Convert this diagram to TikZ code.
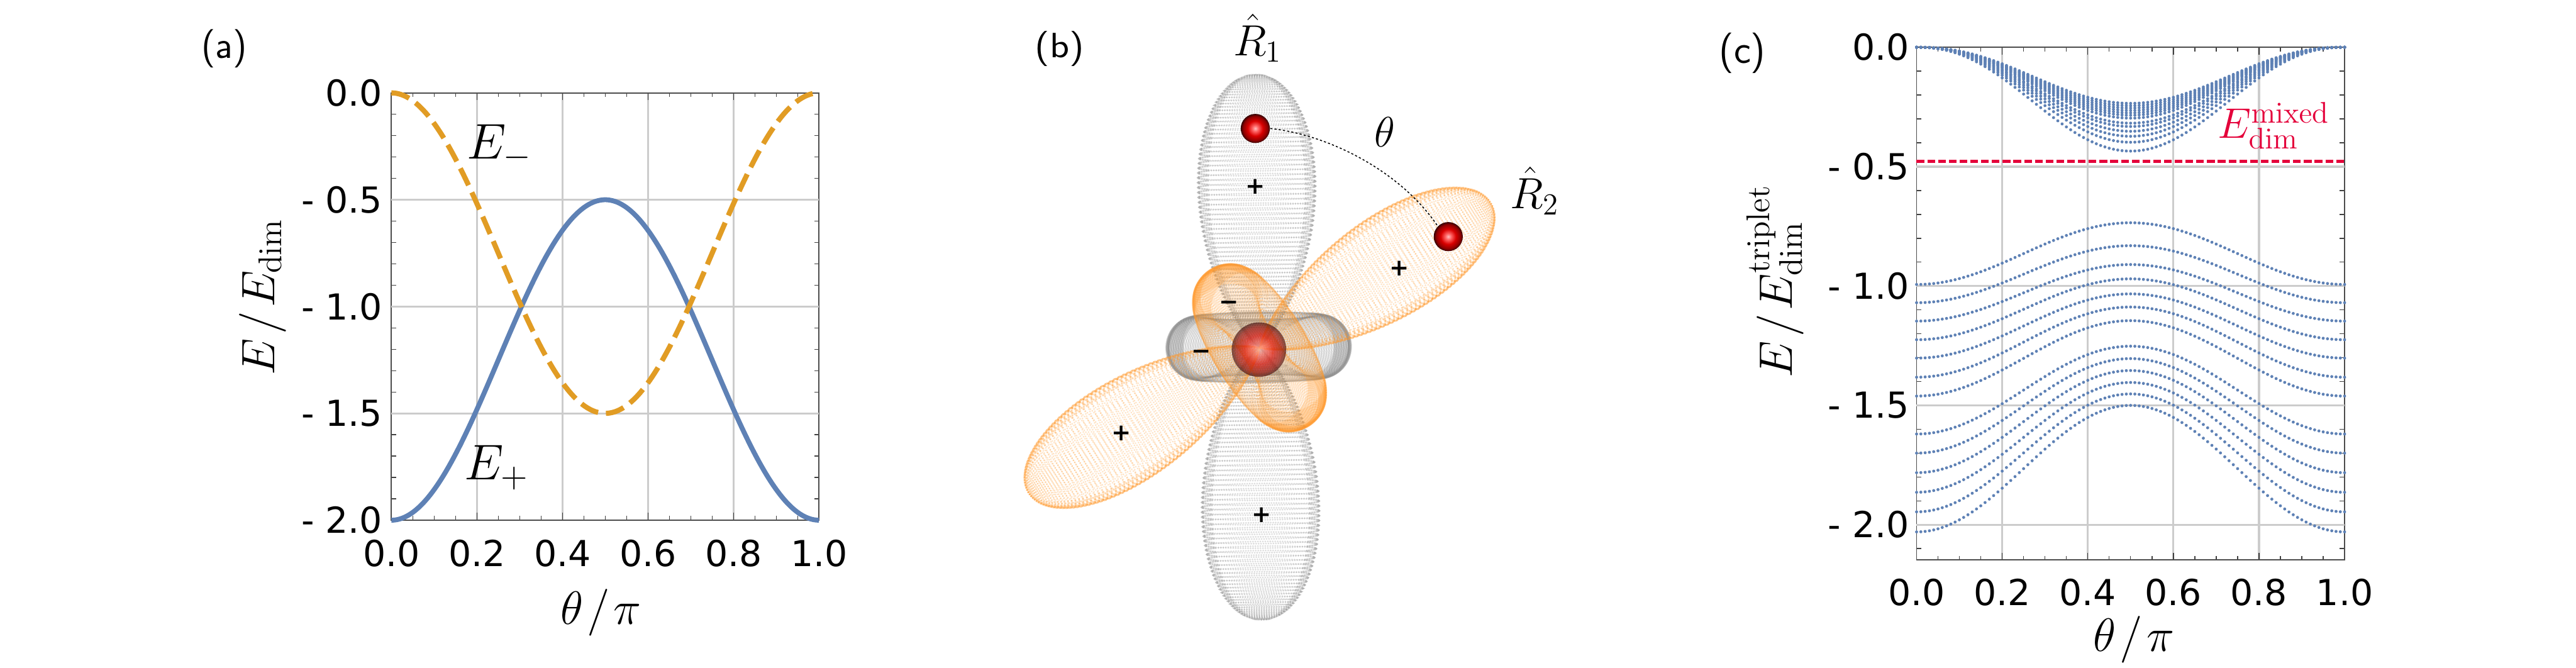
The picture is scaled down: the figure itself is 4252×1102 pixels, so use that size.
\RequirePackage{fix-cm}
\documentclass[tikz,border=0pt]{standalone}
\usepackage[no-math]{fontspec}
\newfontfamily\tickfont{DejaVu Sans}
\newfontfamily\signfont{DejaVu Sans Bold}
\definecolor{mblue}{HTML}{5E81B5}
\definecolor{morange}{HTML}{E19C24}
\definecolor{mred}{HTML}{E4003A}
\definecolor{gridc}{HTML}{CCCCCC}
\definecolor{lobeorange}{HTML}{FF9A30}
\definecolor{lobegray}{HTML}{808080}
\pgfdeclareradialshading{sph}{\pgfpoint{0bp}{0bp}}{%
  color(0bp)=(white!75!red);
  color(5bp)=(red!60!white);
  color(13bp)=(red!85!black);
  color(21bp)=(red!55!black);
  color(25bp)=(red!20!black);
  color(50bp)=(black)}
\tikzset{
  x=0.01cm,y=-0.01cm,
  gridline/.style={gridc,line width=0.95pt},
  axisline/.style={black!70,line width=0.55pt},
  tickline/.style={black!75,line width=0.42pt},
  ticklabel/.style={inner sep=0pt,font=\tickfont\fontsize{16.8}{20}\selectfont},
  axislabel/.style={inner sep=0pt,font=\fontsize{22}{26}\selectfont},
  panellabel/.style={inner sep=0pt,font=\sffamily\fontsize{18}{22}\selectfont},
  curvelabel/.style={inner sep=0pt,anchor=base west,font=\fontsize{23.5}{28}\selectfont},
  vectlabel/.style={inner sep=0pt,anchor=base west,font=\fontsize{20.5}{24}\selectfont},
  signlabel/.style={inner sep=0pt,font=\signfont\fontsize{11}{13}\selectfont},
  bluecurve/.style={mblue,line width=2.3pt},
  orangecurve/.style={morange,line width=2.4pt,dash pattern=on 8.8pt off 3.7pt},
  reddash/.style={mred,line width=1.5pt,dash pattern=on 3.6pt off 1.45pt},
  bluedot/.style={mblue,fill=mblue,draw=none},
  sphere/.style={circle,inner sep=0pt,shading=sph,draw=none},
  arcline/.style={black,line width=0.45pt,dash pattern=on 1pt off 1pt},
  ringdots/.style={line width=0.9pt,dash pattern=on 0.01pt off 1.15pt,line cap=round},
}
\newcommand{\axesbox}[6]{% x0 x1 ytop unit ybottom nYticks
  \foreach \g in {1,2,3,4} \draw[gridline] ({#1+(#2-#1)*\g/5},#3) -- ({#1+(#2-#1)*\g/5},#5);
  \foreach \i in {1,...,19} {
    \pgfmathsetmacro\xx{#1+(#2-#1)*\i/20}
    \pgfmathtruncatemacro\mj{mod(\i,4)==0 ? 12 : 7.5}
    \draw[tickline] (\xx,#3) -- ++(0,\mj);
    \draw[tickline] (\xx,#5) -- ++(0,-\mj);
  }
  \foreach \i in {1,...,#6} {
    \pgfmathsetmacro\yy{#3+#4*\i/10}
    \pgfmathtruncatemacro\mj{mod(\i,5)==0 ? 12 : 8}
    \draw[tickline] (#1,\yy) -- ++(\mj,0);
    \draw[tickline] (#2,\yy) -- ++(-\mj,0);
  }
  \draw[axisline] (#1,#3) rectangle (#2,#5);
}
\newcommand{\orbital}[8]{% cx cy ux uy rot ratio colour lobewidth
  \foreach \t in {0.3,0.85,...,179.9} {
    \pgfmathsetmacro\cc{cos(\t)}
    \pgfmathsetmacro\ss{sin(\t)}
    \pgfmathsetmacro\w{3*\cc*\cc-1}
    \pgfmathsetmacro\rr{\w>0 ? 450*pow(max(\w/2,0.002),2.4) : 152*pow(max(-\w,0.002),0.3)}
    \pgfmathsetmacro\zz{\rr*\cc}
    \pgfmathsetmacro\lw{\w>0 ? #8 : 1}
    \pgfmathsetmacro\fa{\w>0 ? 1 : 0.5}
    \pgfmathsetmacro\rh{max(\rr*\ss*\lw,1)}
    \pgfmathsetmacro\oa{0.27*\fa}
    \pgfmathsetmacro\ob{0.2*\fa}
    \pgfmathsetmacro\oc{0.38*\fa}
    \begin{scope}[shift={({#1+#3*\zz},{#2+#4*\zz})},rotate=#5,yscale=#6]
      \draw[#7,opacity=\oa,ringdots] (0,0) circle (\rh);
      \draw[#7,opacity=\ob,line width=0.9pt]
        (-35:\rh) arc[start angle=-35,end angle=35,radius=\rh]
        (145:\rh) arc[start angle=145,end angle=215,radius=\rh];
      \draw[#7,opacity=\oc,line width=0.9pt]
        (-14:\rh) arc[start angle=-14,end angle=14,radius=\rh]
        (166:\rh) arc[start angle=166,end angle=194,radius=\rh];
    \end{scope}
  }
}
\begin{document}
\begin{tikzpicture}
\useasboundingbox (0,0) rectangle (4252,1102);
% ---------- panel (a)
\axesbox{646}{1352}{153.3}{352.6}{858.5}{19}
\foreach \v/\t in {0/{0.0},1/{- 0.5},2/{- 1.0},3/{- 1.5},4/{- 2.0}}
  \node[ticklabel,anchor=east] (ay\v) at (632,{153.3+176.3*\v}) {\t};
\foreach \g in {1,2,3} \draw[gridline] (646,{153.3+176.3*\g}) -- (1352,{153.3+176.3*\g});
\foreach \v/\t in {0/{0.0},1/{0.2},2/{0.4},3/{0.6},4/{0.8},5/{1.0}}
  \node[ticklabel] (ax\v) at ({646+141.2*\v},913) {\t};
\draw[bluecurve] plot[domain=0:1,samples=141,smooth] ({646+706*\x},{153.3+352.6*(2-1.5*sin(180*\x)^2)});
\draw[orangecurve] plot[domain=0:1,samples=141,smooth] ({646+706*\x},{153.3+352.6*1.5*sin(180*\x)^2});
\node[axislabel,rotate=90,anchor=base] (aylab) at (453,490) {$E\mkern1.5mu/\mkern1.5mu E_{\mathrm{dim}}$};
\node[axislabel,anchor=base] (axlab) at (992,1030) {$\theta\mkern1.5mu/\mkern1.5mu\pi$};
\node[curvelabel] (eminus) at (770,262) {$E_-$};
\node[curvelabel] (eplus) at (766,792) {$E_+$};
\node[panellabel] (pa) at (370,80) {(a)};
% ---------- panel (b)
\orbital{2077.5}{573}{-0.012}{-1}{0.7}{0.06}{lobegray}{1}
\orbital{2079}{574}{0.846}{-0.532}{-57.8}{0.23}{lobeorange}{0.88}
\node[sphere,opacity=0.62,minimum size=25.6pt] (core) at (2078,577) {};
\node[sphere,minimum size=13.65pt] (s1) at (2072,212) {};
\node[sphere,minimum size=13.65pt] (s2) at (2390.5,390.5) {};
\draw[arcline] (s1.east) .. controls (2190,222) and (2310,280) .. (s2.north west);
\node[vectlabel] (r1) at (2035,91.5) {$\hat R_1$};
\node[vectlabel] (r2) at (2492,344) {$\hat R_2$};
\node[inner sep=0pt,font=\fontsize{20}{24}\selectfont] (th) at (2286,218) {$\theta$};
\node[signlabel] (p1) at (2072,308) {+};
\node[signlabel] (p2) at (2310,443) {+};
\node[signlabel] (p3) at (1851,715) {+};
\node[signlabel] (p4) at (2082,850) {+};
\node[signlabel] (m1) at (2029,504) {−};
\node[signlabel] (m2) at (1983,585) {−};
\node[panellabel,font=\sffamily\fontsize{16.5}{20}\selectfont,xscale=1.15] (pb) at (1749,81) {(b)};
% ---------- panel (c)
\axesbox{3163.5}{3870}{78}{394}{924.3}{21}
\foreach \g in {1,2,3,4} \draw[gridline] (3163.5,{78+197*\g}) -- (3870,{78+197*\g});
\foreach \v/\t in {0/{0.0},1/{- 0.5},2/{- 1.0},3/{- 1.5},4/{- 2.0}}
  \node[ticklabel,anchor=east] (cy\v) at (3152,{78+197*\v}) {\t};
\foreach \v/\t in {0/{0.0},1/{0.2},2/{0.4},3/{0.6},4/{0.8},5/{1.0}}
  \node[ticklabel] (cx\v) at ({3163.5+141.3*\v},977.5) {\t};
\foreach \k in {0.235,0.245,0.255,0.265,0.275,0.285,0.297,0.318,0.332,0.352,0.373,0.398,0.435}
  \foreach \i in {0,...,100} {
    \pgfmathsetmacro\sn{sin(1.8*\i)}
    \fill[bluedot] ({3163.5+7.065*\i},{78+394*\k*pow(max(\sn,0.001),2.3)}) circle (2.5);
  }
\foreach \a/\b in {0.9936/0.735,1.070/0.831,1.147/0.910,1.225/0.970,1.302/1.033,1.382/1.088,1.461/1.145,1.620/1.252,1.700/1.304,1.782/1.354,1.864/1.404,1.946/1.452,2.030/1.500}
  \foreach \i in {0,...,100} {
    \pgfmathsetmacro\sn{sin(1.8*\i)}
    \fill[bluedot] ({3163.5+7.065*\i},{78+394*(\a+(\b-\a)*\sn*\sn)}) circle (2.5);
  }
\coordinate (rl) at (3163.5,266.7);
\coordinate (rr) at (3870,266.7);
\draw[reddash] (rl) -- (rr);
\node[inner sep=0pt,anchor=base west,text=mred,font=\fontsize{20}{24}\selectfont] (mix) at (3660,228) {$E^{\mathrm{mixed}}_{\mathrm{dim}}$};
\node[axislabel,rotate=90,anchor=base] (cylab) at (2958,464) {$E\mkern1.5mu/\mkern1.5mu E^{\mathrm{triplet}}_{\mathrm{dim}}$};
\node[axislabel,anchor=base] (cxlab) at (3522,1075) {$\theta\mkern1.5mu/\mkern1.5mu\pi$};
\node[panellabel,font=\sffamily\fontsize{19}{23}\selectfont] (pc) at (2876,88) {(c)};
\end{tikzpicture}
\end{document}
